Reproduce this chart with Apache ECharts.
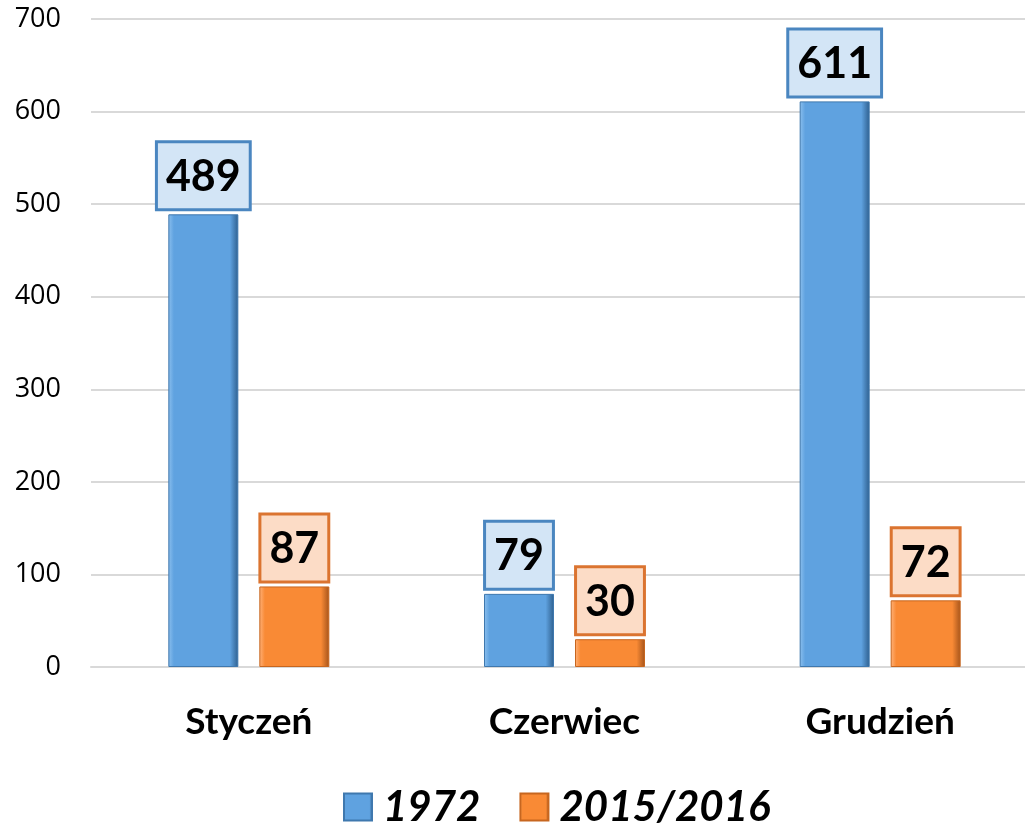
<!DOCTYPE html>
<html>
<head>
<meta charset="utf-8">
<script src="https://cdn.jsdelivr.net/npm/echarts@6/dist/echarts.min.js"></script>
<style>
html, body { margin: 0; padding: 0; background: #fff; }
#main { width: 1025px; height: 829px; }
</style>
</head>
<body>
<div id="main"></div>
<script>
// dane
var months = ['Styczeń', 'Czerwiec', 'Grudzień'];
var seriesNames = ['1972', '2015/2016'];
var values1972 = [489, 79, 611];
var values2016 = [87, 30, 72];
var yTicks = [0, 100, 200, 300, 400, 500, 600, 700];

var chart = echarts.init(document.getElementById('main'));

function barFill(light, main, dark) {
    return new echarts.graphic.LinearGradient(0, 0, 1, 0, [
        { offset: 0, color: light },
        { offset: 0.08, color: main },
        { offset: 0.88, color: main },
        { offset: 1, color: dark }
    ]);
}

function labelStyle(bg, border) {
    return {
        show: true,
        position: 'top',
        distance: 6,
        fontFamily: 'Lato',
        fontWeight: 'bold',
        fontSize: 43,
        color: '#000',
        backgroundColor: bg,
        borderColor: border,
        borderWidth: 3,
        padding: [7, 8, 5, 8],
        lineHeight: 53
    };
}

var option = {
    animation: false,
    grid: {
        left: 91,
        top: 19,
        right: -13,
        bottom: 162,
        outerBoundsMode: 'none'
    },
    legend: {
        data: seriesNames,
        top: 786,
        left: 343,
        padding: 0,
        itemWidth: 28,
        itemHeight: 27,
        itemGap: 39,
        icon: 'rect',
        textStyle: {
            fontFamily: 'Lato',
            fontSize: 42,
            fontWeight: 'bold',
            fontStyle: 'italic',
            color: '#000',
            padding: [0, 0, 0, 6]
        }
    },
    xAxis: {
        type: 'category',
        data: months,
        axisTick: { show: false },
        axisLine: { lineStyle: { color: '#D9D9D9', width: 2 } },
        axisLabel: {
            margin: 37,
            fontFamily: 'Lato',
            fontSize: 37,
            fontWeight: 'bold',
            color: '#000'
        }
    },
    yAxis: {
        type: 'value',
        min: yTicks[0],
        max: yTicks[yTicks.length - 1],
        interval: 100,
        axisLine: { show: false },
        axisTick: { show: false },
        splitLine: { lineStyle: { color: '#D9D9D9', width: 2 } },
        axisLabel: {
            margin: 30,
            fontFamily: 'Open Sans',
            fontSize: 27,
            color: '#000'
        }
    },
    series: [
        {
            name: seriesNames[0],
            type: 'bar',
            data: values1972,
            barWidth: 70,
            barGap: '30%',
            itemStyle: {
                color: barFill('#8CC0EE', '#5FA2E0', '#2E5F8E'),
                borderColor: '#3F78AE',
                borderWidth: 1
            },
            label: labelStyle('#D3E5F6', '#4A86C0')
        },
        {
            name: seriesNames[1],
            type: 'bar',
            data: values2016,
            barWidth: 70,
            itemStyle: {
                color: barFill('#FFB27A', '#F98A35', '#A4531A'),
                borderColor: '#C7661F',
                borderWidth: 1
            },
            label: labelStyle('#FCDCC6', '#DB7430')
        }
    ]
};

chart.setOption(option);
</script>
</body>
</html>
